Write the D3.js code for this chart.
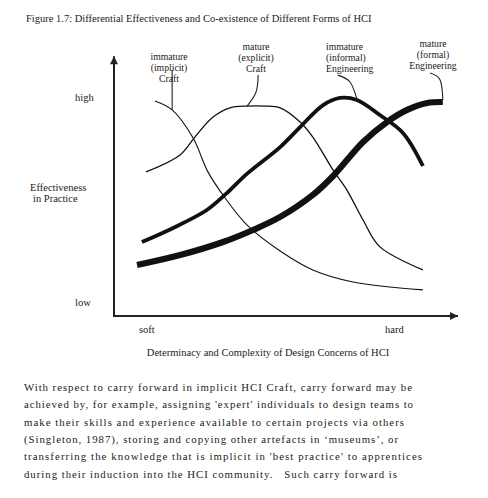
<!DOCTYPE html>
<html><head><meta charset="utf-8">
<script src="https://cdn.jsdelivr.net/npm/d3@7"></script>
<style>body{margin:0;background:#fff}svg{display:block}text{font-family:"Liberation Serif","Times New Roman",serif;fill:#222}</style>
</head><body><svg id="c" width="488" height="498"></svg>
<script>
// Data (x: 0 = soft .. 100 = hard, y: 0 = low .. 100 = high effectiveness)
const implicitCraft = [[11.9,84.0],[16.9,80.5],[23.0,69.5],[27.3,56.3],[32.3,46.1],[38.7,35.5],[48.3,25.4],[57.8,18.0],[69.5,13.3],[89.8,10.2]];
const explicitCraft = [[9.3,56.3],[19.2,62.9],[23.5,69.9],[28.8,77.7],[33.7,81.3],[38.7,82.0],[43.9,82.0],[48.3,81.3],[54.1,75.8],[57.8,69.9],[63.7,57.0],[67.7,49.2],[72.4,37.5],[77.3,27.0],[89.8,18.0]];
const informalEng = [[8.1,28.9],[17.2,34.4],[27.0,41.4],[32.8,48.0],[38.7,55.6],[48.3,66.0],[54.1,73.8],[60.8,82.4],[65.7,85.2],[70.6,84.4],[77.3,78.5],[84.0,71.5],[89.8,58.6]];
const formalEng = [[6.7,19.9],[19.2,23.8],[31.7,28.9],[40.4,33.6],[48.3,38.7],[57.8,47.3],[63.7,54.7],[72.4,68.0],[79.4,75.8],[85.2,80.5],[91.0,83.2],[95.6,83.6]];
const seriesNames = ["immature (implicit) Craft","mature (explicit) Craft","immature (informal) Engineering","mature (formal) Engineering"];
const leader1 = [[16.9,96.1],[16.9,80.5]];
const leader2 = [[41.9,94.1],[41.3,87.5],[38.7,82.0]];
const leader3 = [[65.1,94.1],[68.6,91.4],[70.6,84.8]];
const leader4 = [[91.9,94.9],[94.8,92.2],[95.6,84.4]];
const xTickLabels = ["soft","hard"];
const yTickLabels = ["low","high"];
const title = "Figure 1.7: Differential Effectiveness and Co-existence of Different Forms of HCI";
const xTitle = "Determinacy and Complexity of Design Concerns of HCI";
const yTitle = ["Effectiveness","in Practice"];
const paragraph = [
 "With respect to carry forward in implicit HCI Craft, carry forward may be",
 "achieved by, for example, assigning 'expert' individuals to design teams to",
 "make their skills and experience available to certain projects via others",
 "(Singleton, 1987), storing and copying other artefacts in \u2018museums\u2019, or",
 "transferring the knowledge that is implicit in 'best practice' to apprentices",
 "during their induction into the HCI community.   Such carry forward is"
];

const svg = d3.select("#c");
const x = d3.scaleLinear().domain([0,100]).range([114,458]);
const y = d3.scaleLinear().domain([0,100]).range([316,60]);

svg.append("text").attr("x",26).attr("y",22).attr("font-size",10.5).text(title);

// axes with arrows
const defs = svg.append("defs");
defs.append("marker").attr("id","arr").attr("viewBox","0 0 10 10").attr("refX",10).attr("refY",5)
 .attr("markerWidth",16).attr("markerHeight",8).attr("markerUnits","userSpaceOnUse").attr("orient","auto")
 .append("path").attr("d","M0,0L10,5L0,10z").attr("fill","#222");
svg.append("line").attr("x1",x(0)).attr("y1",y(0)+0.8).attr("x2",x(0)).attr("y2",y(101.5))
 .attr("stroke","#222").attr("stroke-width",2).attr("marker-end","url(#arr)");
svg.append("line").attr("x1",x(0)-1).attr("y1",y(0)).attr("x2",x(100)).attr("y2",y(0))
 .attr("stroke","#222").attr("stroke-width",2).attr("marker-end","url(#arr)");

const line = d3.line().x(d=>x(d[0])).y(d=>y(d[1])).curve(d3.curveCatmullRom.alpha(0.5));
const widths = [1.1,1.3,3.8,6.2];
[implicitCraft,explicitCraft,informalEng,formalEng].forEach((s,i)=>{
  svg.append("path").attr("d",line(s)).attr("fill","none").attr("stroke","#111")
   .attr("stroke-width",widths[i]).attr("stroke-linecap","butt");
});
const lead = d3.line().x(d=>x(d[0])).y(d=>y(d[1])).curve(d3.curveNatural);
[leader1,leader2,leader3,leader4].forEach(s=>{
  svg.append("path").attr("d",lead(s)).attr("fill","none").attr("stroke","#222").attr("stroke-width",1.1);
});

// series labels
const lab = [
 {t:["immature","(implicit)","Craft"], x:169, y:60, a:"middle"},
 {t:["mature","(explicit)","Craft"], x:256, y:50, a:"middle"},
 {t:["immature","(informal)","Engineering"], x:326, y:50, a:"start"},
 {t:["mature","(formal)","Engineering"], x:433, y:47, a:"middle"}
];
lab.forEach(l=>{
  l.t.forEach((s,j)=>svg.append("text").attr("x",l.x).attr("y",l.y+j*11.2).attr("text-anchor",l.a)
   .attr("font-size",9.7).text(s));
});

svg.append("text").attr("x",75).attr("y",101).attr("font-size",10.5).text(yTickLabels[1]);
svg.append("text").attr("x",75).attr("y",306).attr("font-size",10.5).text(yTickLabels[0]);
svg.append("text").attr("x",30).attr("y",191).attr("font-size",10.5).text(yTitle[0]);
svg.append("text").attr("x",33).attr("y",202).attr("font-size",10.5).text(yTitle[1]);
svg.append("text").attr("x",139).attr("y",333).attr("font-size",10.5).text(xTickLabels[0]);
svg.append("text").attr("x",385).attr("y",333).attr("font-size",10.5).text(xTickLabels[1]);
svg.append("text").attr("x",268).attr("y",356).attr("text-anchor","middle").attr("font-size",10.5).text(xTitle);

const ends = [412,413,404,398,422,397];
paragraph.forEach((s,i)=>{
  svg.append("text").attr("x",24).attr("y",391+i*17.3).attr("font-size",10.8)
   .attr("textLength",ends[i]-24).attr("lengthAdjust","spacing").attr("xml:space","preserve").text(s);
});
</script></body></html>
